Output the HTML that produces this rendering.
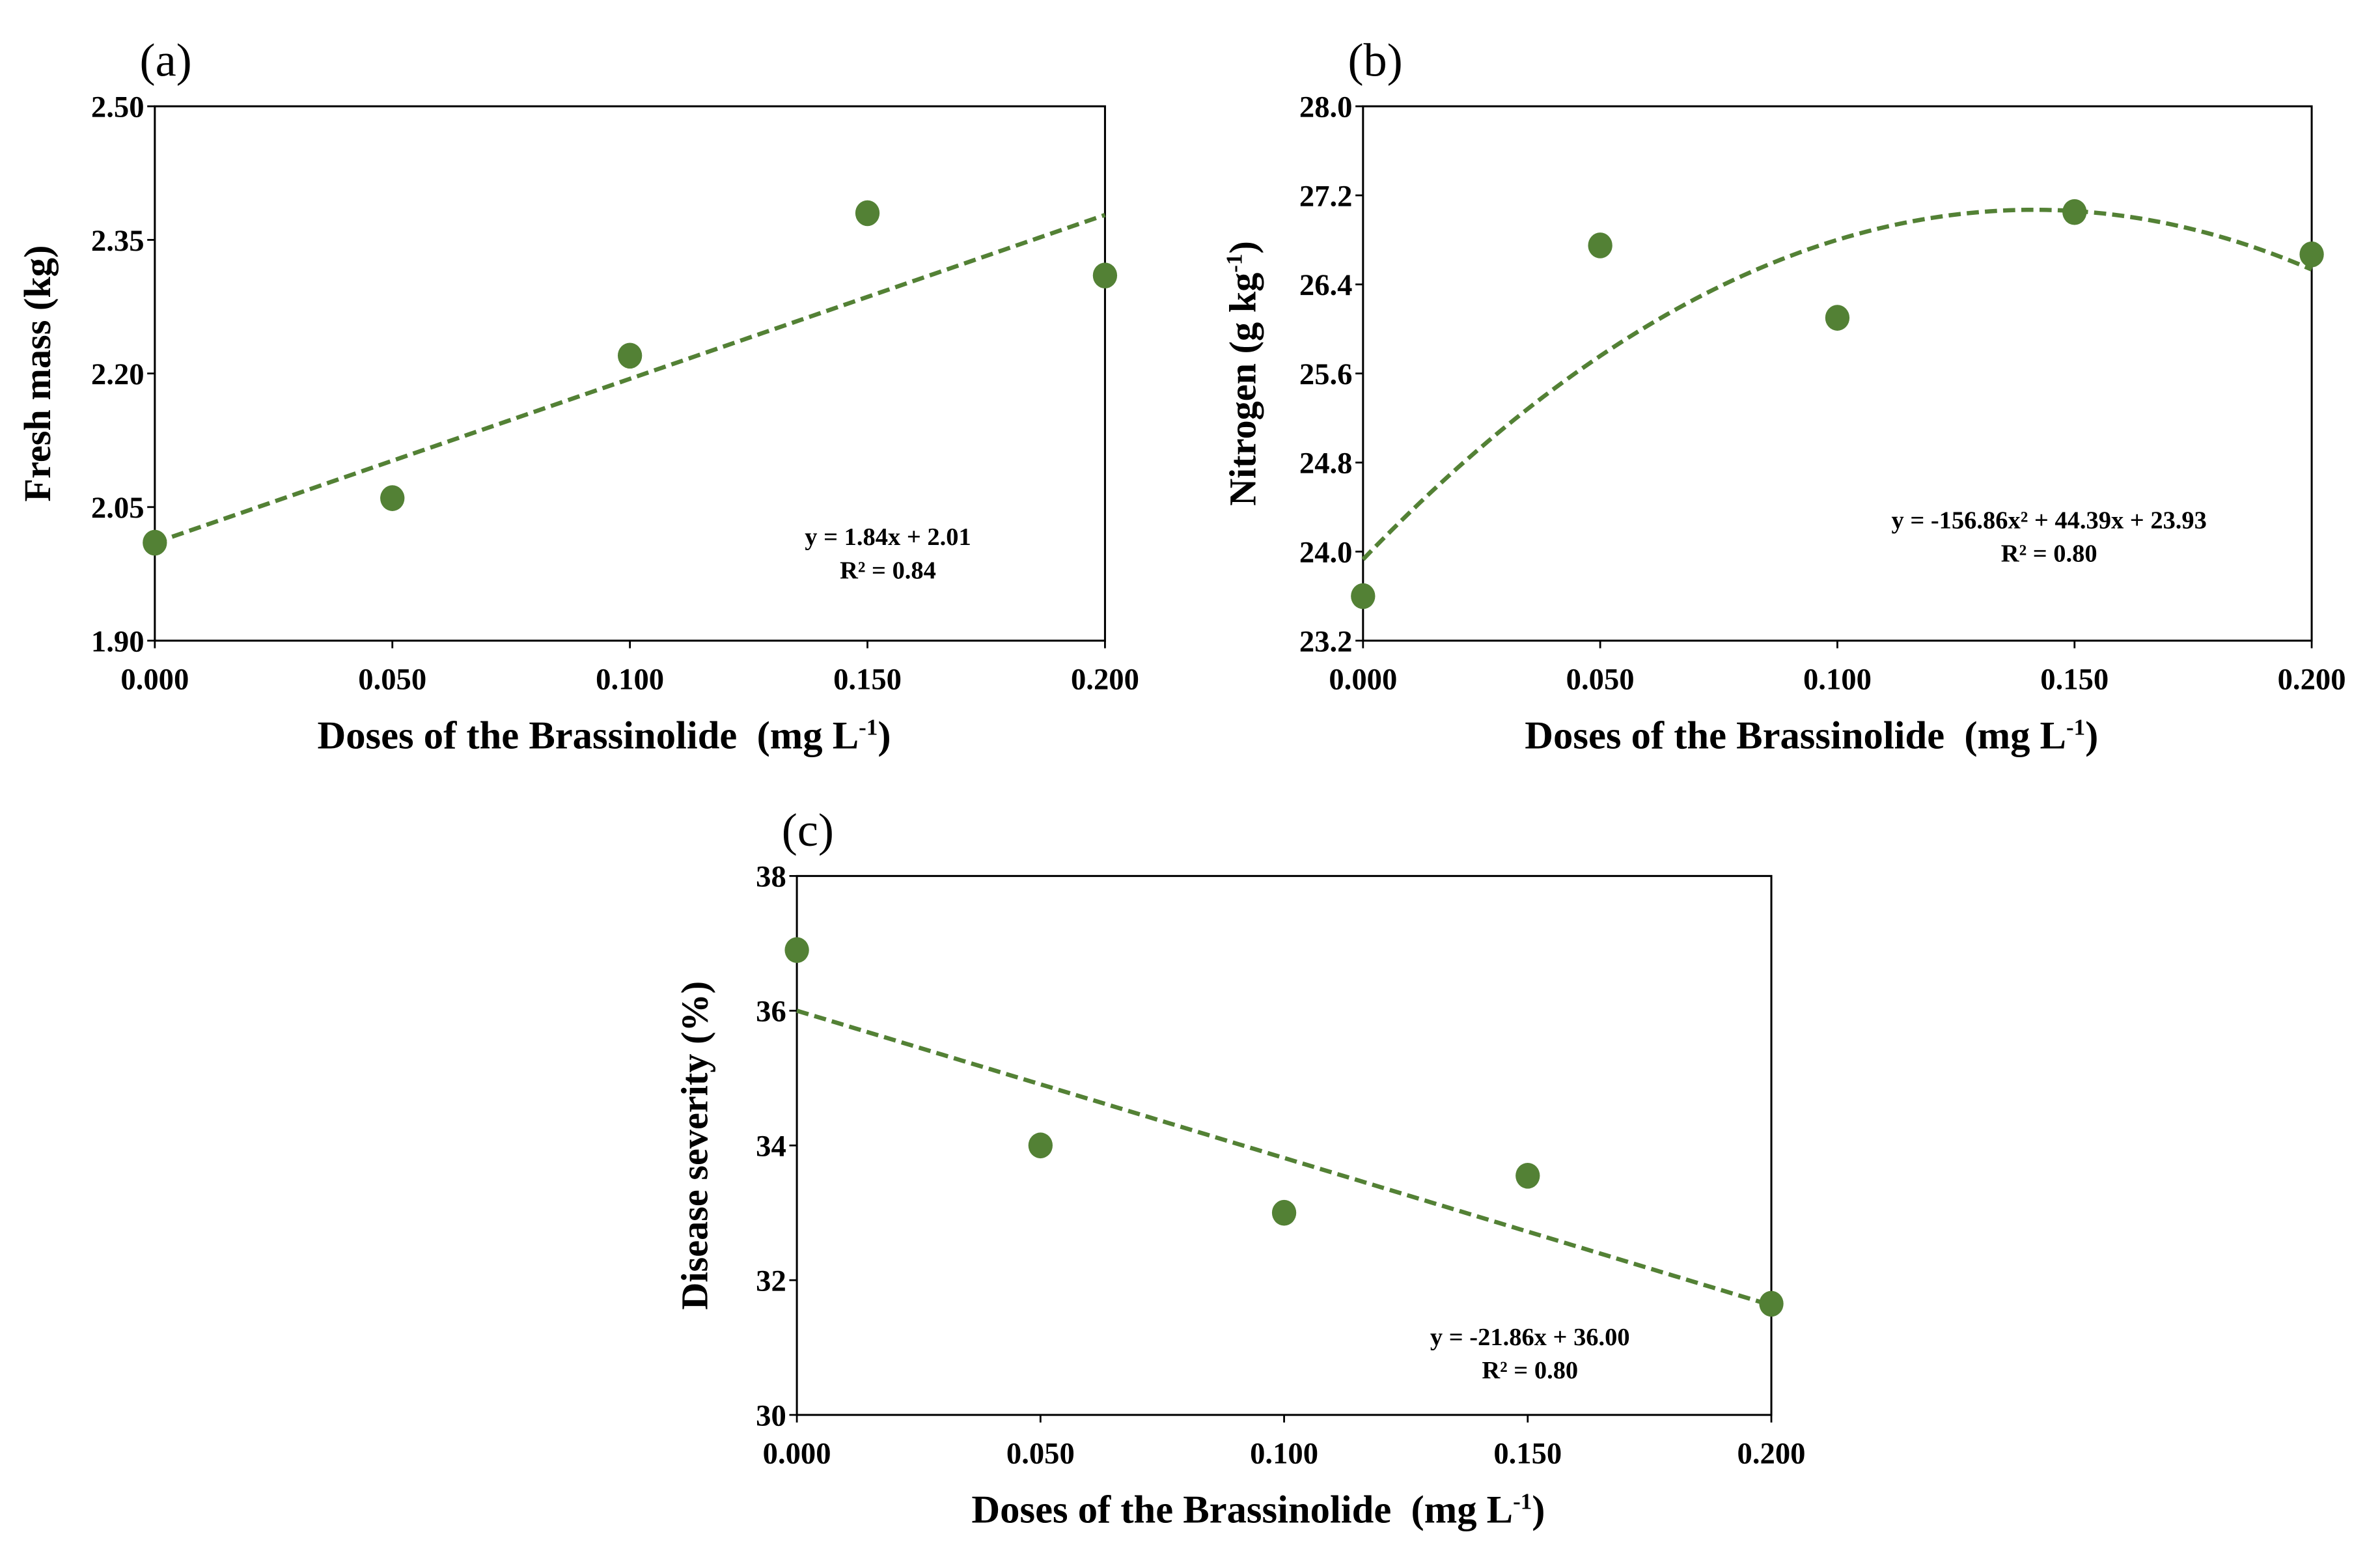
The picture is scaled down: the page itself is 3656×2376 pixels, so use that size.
<!DOCTYPE html>
<html><head><meta charset="utf-8"><style>
html,body{margin:0;padding:0;background:#fff}
svg{display:block}
text{font-family:"Liberation Serif",serif;font-weight:bold;fill:#000}
</style></head><body>
<svg id="fig" width="3656" height="2376" viewBox="0 0 1568 1019" xmlns="http://www.w3.org/2000/svg"></svg>
<script>
const xTicks=[0,0.05,0.1,0.15,0.2];
const xTickLabels=["0.000","0.050","0.100","0.150","0.200"];
const aValues=[2.01,2.06,2.22,2.38,2.31];
const aTicks=[1.90,2.05,2.20,2.35,2.50];
const aTickLabels=["1.90","2.05","2.20","2.35","2.50"];
const aFit=[1.84,2.01];
const bValues=[23.6,26.75,26.1,27.05,26.67];
const bTicks=[23.2,24.0,24.8,25.6,26.4,27.2,28.0];
const bTickLabels=["23.2","24.0","24.8","25.6","26.4","27.2","28.0"];
const bFit=[-156.86,44.39,23.93];
const cValues=[36.9,34.0,33.0,33.55,31.65];
const cTicks=[30,32,34,36,38];
const cTickLabels=["30","32","34","36","38"];
const cFit=[-21.86,36.00];

const NS="http://www.w3.org/2000/svg";
const svg=document.getElementById('fig');
function mk(tag,attrs,parent,txt){const e=document.createElementNS(NS,tag);for(const k in attrs)e.setAttribute(k,attrs[k]);if(txt!==undefined)e.textContent=txt;(parent||svg).appendChild(e);return e;}
const G="#538135";

function chart(o){
  const g=mk('g',{});
  
  
  const X=v=>o.L+(v-0)/(0.2)*(o.R-o.L);
  const Y=v=>o.B-(v-o.ymin)/(o.ymax-o.ymin)*(o.B-o.T);
  const fr=mk('rect',{x:o.L,y:o.T,width:o.R-o.L,height:o.B-o.T,fill:'none',stroke:'#000','stroke-width':1.3},g);
  
  
  o.yt.forEach((t,i)=>{
    mk('line',{x1:o.L-5,x2:o.L,y1:Y(t),y2:Y(t),stroke:'#000','stroke-width':1.2},g);
    const tx=mk('text',{x:o.L-7,y:Y(t)+7,'text-anchor':'end','font-size':20},g,o.ytl[i]);
    
    
  });
  xTicks.forEach((t,i)=>{
    mk('line',{x1:X(t),x2:X(t),y1:o.B,y2:o.B+5,stroke:'#000','stroke-width':1.2},g);
    const tx=mk('text',{x:X(t),y:o.B+32,'text-anchor':'middle','font-size':20},g,xTickLabels[i]);
    
    
  });
  let d='';
  for(let k=0;k<=100;k++){const xv=0.2*k/100;d+=(k?'L':'M')+X(xv).toFixed(2)+','+Y(o.fit(xv)).toFixed(2);}
  const tl=mk('path',{d:d,fill:'none',stroke:G,'stroke-width':2.8,'stroke-dasharray':'8,4'},g);
  
  
  o.vals.forEach((v,i)=>{
    const c=mk('ellipse',{cx:X(xTicks[i]),cy:Y(v),rx:8,ry:8.5,fill:G},g);
    
    
  });
  const pl=mk('text',{x:o.L-10,y:o.T-20,'font-size':31,style:'font-weight:normal'},g,o.panel);
  
  
  const yt=mk('text',{x:0,y:0,'text-anchor':'middle','font-size':25,transform:`translate(${o.ytx},${(o.T+o.B)/2}) rotate(-90)`},g);
  
  
  yt.innerHTML=o.ytitle;
  const xt=mk('text',{x:(o.L+o.R)/2-17,y:o.B+71,'text-anchor':'middle','font-size':26},g);
  
  
  xt.innerHTML='Doses of the Brassinolide\u00a0 (mg L<tspan dy="-9" font-size="15">-1</tspan><tspan dy="9">)</tspan>';
  const e1=mk('text',{x:o.ex,y:o.ey,'text-anchor':'middle','font-size':16.5,fill:o.ec},g);
  
  
  e1.innerHTML=o.eq;
  const e2=mk('text',{x:o.ex,y:o.ey+22,'text-anchor':'middle','font-size':16.5,fill:o.ec},g,o.r2);
  
  
}
chart({name:'chart-a-fresh-mass',L:102,R:728,T:70,B:422,ymin:1.9,ymax:2.5,yt:aTicks,ytl:aTickLabels,vals:aValues,
  fit:x=>aFit[0]*x+aFit[1],panel:'(a)',ytx:33,ytitle:'Fresh mass (kg)',ex:585,ey:359,ec:'#000',
  eq:'y = 1.84x + 2.01',r2:'R² = 0.84'});
chart({name:'chart-b-nitrogen',L:898,R:1523,T:70,B:422,ymin:23.2,ymax:28.0,yt:bTicks,ytl:bTickLabels,vals:bValues,
  fit:x=>bFit[0]*x*x+bFit[1]*x+bFit[2],panel:'(b)',ytx:827,ytitle:'Nitrogen (g kg<tspan dy="-9" font-size="15">-1</tspan><tspan dy="9">)</tspan>',ex:1350,ey:348,ec:'#000',
  eq:'y = -156.86x² + 44.39x + 23.93',r2:'R² = 0.80'});
chart({name:'chart-c-disease-severity',L:525,R:1167,T:577,B:932,ymin:30,ymax:38,yt:cTicks,ytl:cTickLabels,vals:cValues,
  fit:x=>cFit[0]*x+cFit[1],panel:'(c)',ytx:466,ytitle:'Disease severity (%)',ex:1008,ey:886,ec:'#595959',
  eq:'y = -21.86x + 36.00',r2:'R² = 0.80'});
</script>
</body></html>
